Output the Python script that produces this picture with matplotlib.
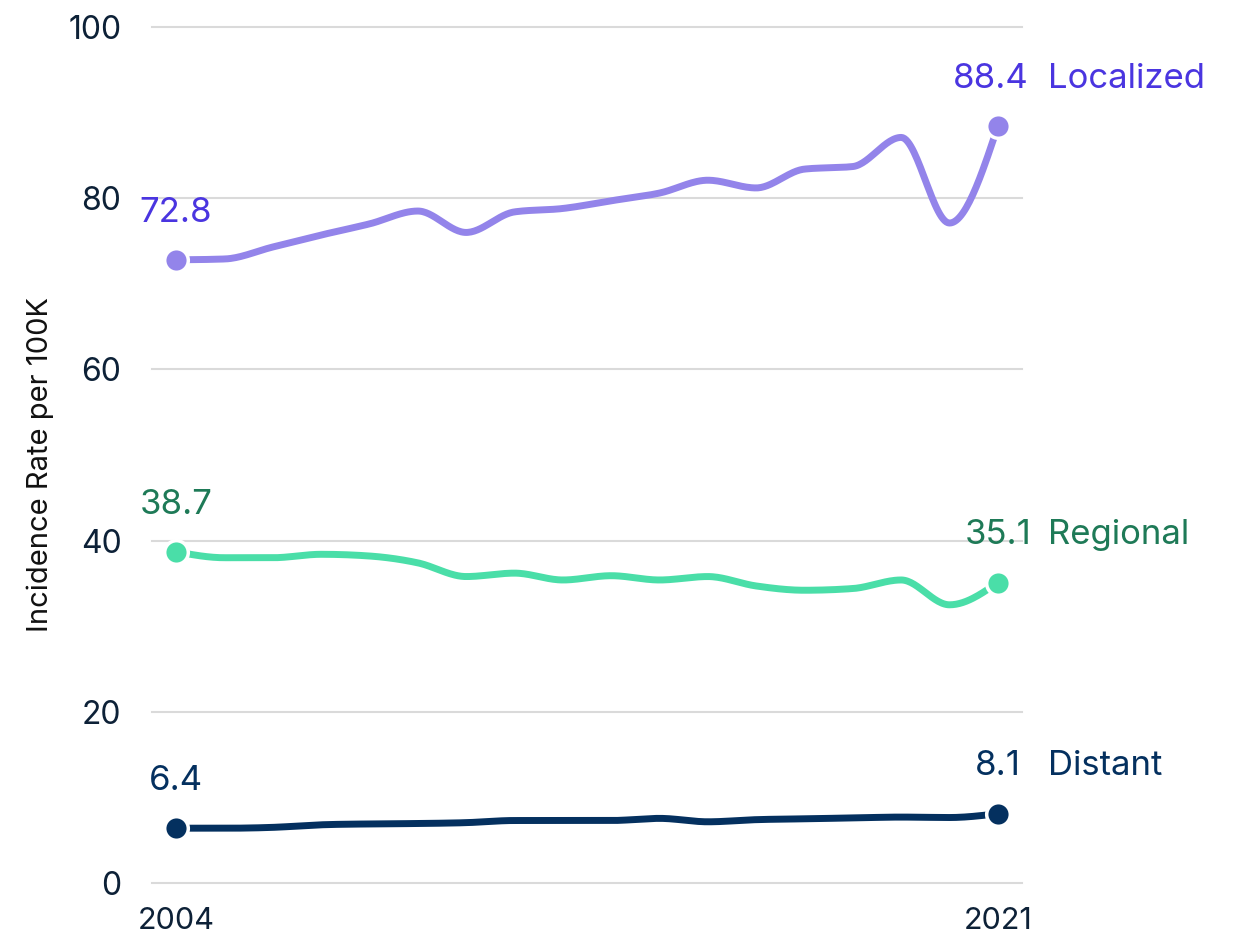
import numpy as np
import matplotlib
matplotlib.use("Agg")
import matplotlib.pyplot as plt

years = list(range(2004, 2022))
localized = [72.8, 72.9, 74.3, 75.7, 77.0, 78.5, 76.0, 78.4, 78.8, 79.7, 80.6, 82.1, 81.2, 83.4, 83.7, 87.1, 77.1, 88.4]
regional = [38.7, 38.0, 38.0, 38.4, 38.2, 37.4, 35.8, 36.2, 35.4, 35.9, 35.4, 35.8, 34.7, 34.2, 34.4, 35.4, 32.5, 35.1]
distant = [6.4, 6.4, 6.5, 6.8, 6.9, 6.95, 7.05, 7.3, 7.3, 7.3, 7.55, 7.15, 7.4, 7.5, 7.6, 7.7, 7.65, 8.1]
series_names = ["Localized", "Regional", "Distant"]
line_colors = ["#9384EA", "#4ADEA8", "#04305F"]
text_colors = ["#4A35E0", "#1E7A57", "#04305F"]
yticks = [0, 20, 40, 60, 80, 100]
xtick_labels = ["2004", "2021"]

plt.rcParams['font.family'] = ['Inter', 'DejaVu Sans']


def monotone(x, y, n=30):
    x = np.asarray(x, float)
    y = np.asarray(y, float)
    h = np.diff(x)
    s = np.diff(y) / h
    m = np.zeros_like(y)
    for i in range(1, len(y) - 1):
        s0, s1 = s[i - 1], s[i]
        p = (s0 * h[i] + s1 * h[i - 1]) / (h[i - 1] + h[i])
        m[i] = (np.sign(s0) + np.sign(s1)) * min(abs(s0), abs(s1), 0.5 * abs(p))
    m[0] = (3 * s[0] - m[1]) / 2
    m[-1] = (3 * s[-1] - m[-2]) / 2
    xs, ys = [], []
    for i in range(len(h)):
        t = np.linspace(0, 1, n, endpoint=(i == len(h) - 1))
        h00 = 2 * t**3 - 3 * t**2 + 1
        h10 = t**3 - 2 * t**2 + t
        h01 = -2 * t**3 + 3 * t**2
        h11 = t**3 - t**2
        xs.append(x[i] + t * h[i])
        ys.append(h00 * y[i] + h10 * h[i] * m[i] + h01 * y[i + 1] + h11 * h[i] * m[i + 1])
    return np.concatenate(xs), np.concatenate(ys)


fig = plt.figure(figsize=(12.44, 9.41), dpi=100)
ax = fig.add_axes([152 / 1244, (941 - 883) / 941, (1022 - 152) / 1244, (883 - 27) / 941])
ax.set_xlim(2003.5, 2021.5)
ax.set_ylim(0, 100)
for s in ax.spines.values():
    s.set_visible(False)

for v in yticks:
    ax.axhline(v, color="#DADADA", lw=1.5, zorder=0, clip_on=False)

ax.set_yticks(yticks)
ax.set_yticklabels([str(v) for v in yticks], fontsize=23, color="#0D2137")
ax.tick_params(axis="y", length=0, pad=22)
ax.set_xticks([years[0], years[-1]])
ax.set_xticklabels(xtick_labels, fontsize=22, color="#0D2137")
ax.tick_params(axis="x", length=0, pad=17)
fig.text(40 / 1244, (941 - 465) / 941, "Incidence Rate per 100K", rotation=90,
         ha="center", va="center", fontsize=21, color="#111111")

end_dx = [-5, 0, 0]
for data, name, lc, tc, dx in zip([localized, regional, distant], series_names, line_colors, text_colors, end_dx):
    xs, ys = monotone(years, data)
    ax.plot(xs, ys, color=lc, lw=5, solid_capstyle="round", zorder=2, clip_on=False)
    ax.plot([years[0], years[-1]], [data[0], data[-1]], "o", ms=17, color=lc,
            mec="white", mew=2.5, zorder=3, clip_on=False)
    ax.annotate(f"{data[0]}", (years[0], data[0]), xytext=(0, 34), textcoords="offset points",
                ha="center", va="center", fontsize=25, color=tc)
    ax.annotate(f"{data[-1]}", (years[-1], data[-1]), xytext=(dx, 34), textcoords="offset points",
                ha="center", va="center", fontsize=25, color=tc, annotation_clip=False)
    ax.annotate(name, (years[-1], data[-1]), xytext=(36, 34), textcoords="offset points",
                ha="left", va="center", fontsize=25, color=tc, annotation_clip=False)

fig.savefig("out.png", dpi=100)
